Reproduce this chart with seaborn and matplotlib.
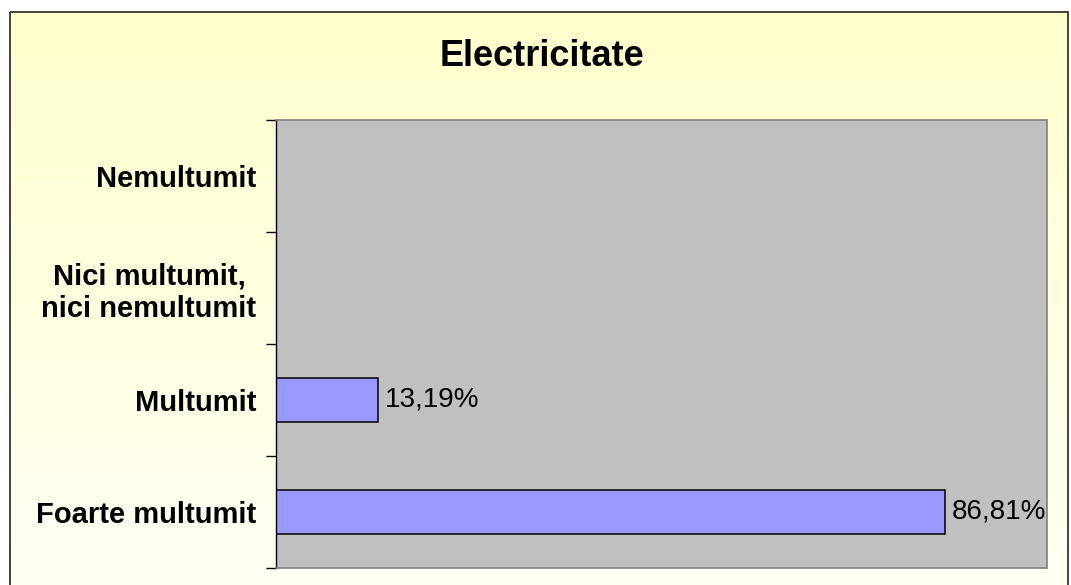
import numpy as np
import pandas as pd
import matplotlib
matplotlib.use("Agg")
import matplotlib.pyplot as plt
from matplotlib.colors import LinearSegmentedColormap
from matplotlib.patches import Rectangle
import seaborn as sns

# ---- data ----
categories = ["Nemultumit", "Nici multumit,\nnici nemultumit", "Multumit", "Foarte multumit"]
values = [0.0, 0.0, 13.19, 86.81]
value_labels = ["", "", "13,19%", "86,81%"]
title = "Electricitate"

sns.set_theme(style="white")
plt.rcParams["font.family"] = ["Liberation Sans", "DejaVu Sans"]

W, H = 1071, 585
fig = plt.figure(figsize=(W / 100, H / 100), dpi=100)
fig.patch.set_facecolor("white")

# background gradient inside the chart frame
bg = fig.add_axes([0, 0, 1, 1], zorder=-10)
bg.axis("off")
cmap = LinearSegmentedColormap.from_list("bggrad", ["#FFFFCC", "#FFFFF6"])
grad = np.linspace(0, 1, 256).reshape(-1, 1)
bg.imshow(grad, cmap=cmap, aspect="auto", extent=(10, 1068, 600, 12), zorder=0)
bg.add_patch(Rectangle((10, 12), 1058, 600, fill=False, edgecolor="#222222", linewidth=1.2, zorder=2))
bg.set_xlim(0, W)
bg.set_ylim(H, 0)

# main plot area
ax = fig.add_axes([276 / W, 1 - 568 / H, (1047 - 276) / W, (568 - 120) / H])
ax.set_facecolor("#C0C0C0")

df = pd.DataFrame({"cat": categories, "val": values})
sns.barplot(data=df, x="val", y="cat", order=categories, orient="h", width=0.4,
            color="#9999FF", edgecolor="black", linewidth=1.1, saturation=1, ax=ax)

ax.set_xlim(0, 100)
ax.set_ylim(3.5, -0.5)
ax.set_xlabel("")
ax.set_ylabel("")
ax.set_xticks([])

ax.set_yticks(range(len(categories)))
ax.set_yticklabels(categories, fontsize=21, fontweight="bold", color="black", multialignment="center")
ax.tick_params(axis="y", which="major", length=0, pad=14)
ax.set_yticks(np.arange(-0.5, len(categories), 1.0), minor=True)
ax.tick_params(axis="y", which="minor", length=7, width=1, color="black", direction="out", left=True)

for side in ["top", "right", "bottom"]:
    ax.spines[side].set_color("#808080")
    ax.spines[side].set_linewidth(1.2)
ax.spines["left"].set_color("black")
ax.spines["left"].set_linewidth(1.0)

for cont in ax.containers:
    ax.bar_label(cont, labels=value_labels, padding=5, fontsize=20, color="black")

fig.text(542 / W, 1 - 56 / H, title, ha="center", va="center", fontsize=26, fontweight="bold", color="black")

fig.savefig("out.png", dpi=100)
